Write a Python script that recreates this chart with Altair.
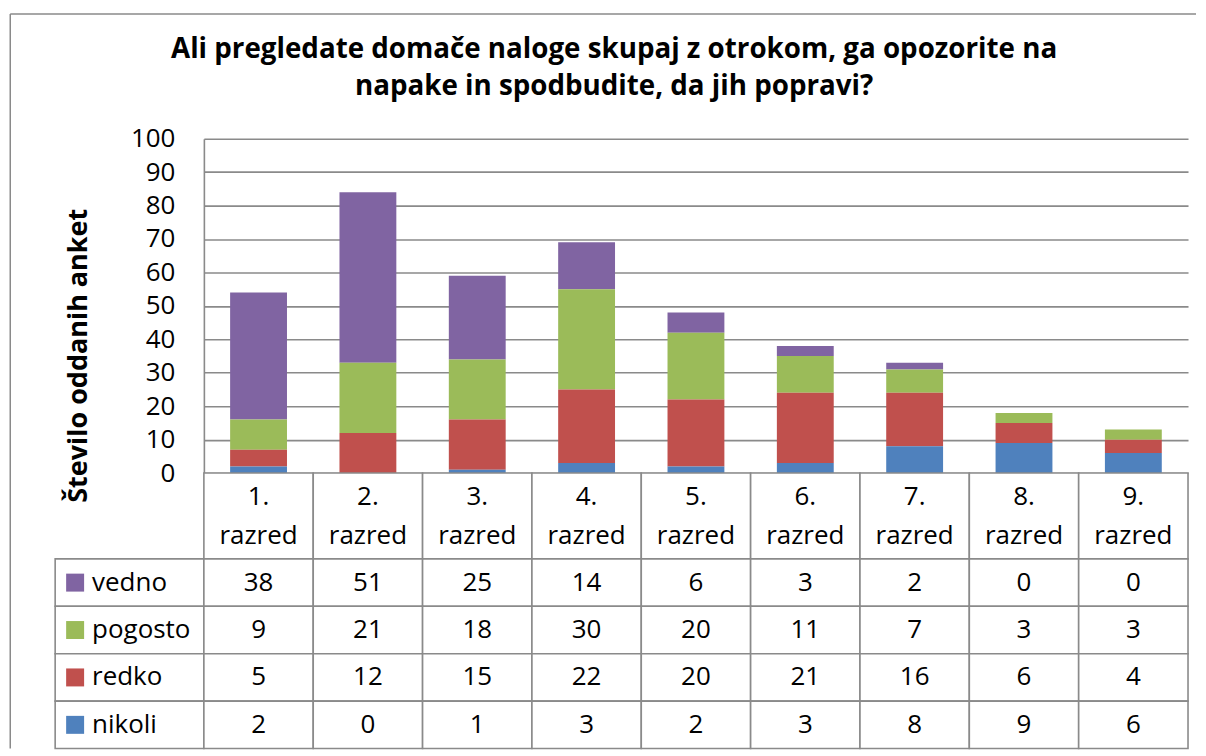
import altair as alt
import pandas as pd

# ---- data ----
categories = ["1. razred", "2. razred", "3. razred", "4. razred", "5. razred",
              "6. razred", "7. razred", "8. razred", "9. razred"]
series = ["vedno", "pogosto", "redko", "nikoli"]
vedno = [38, 51, 25, 14, 6, 3, 2, 0, 0]
pogosto = [9, 21, 18, 30, 20, 11, 7, 3, 3]
redko = [5, 12, 15, 22, 20, 21, 16, 6, 4]
nikoli = [2, 0, 1, 3, 2, 3, 8, 9, 6]
colors = ["#8064A2", "#9BBB59", "#C0504D", "#4F81BD"]
y_ticks = [0, 10, 20, 30, 40, 50, 60, 70, 80, 90, 100]
title_lines = ["Ali pregledate domače naloge skupaj z otrokom, ga opozorite na",
               "napake in spodbudite, da jih popravi?"]
y_title = "Število oddanih anket"

values = {"vedno": vedno, "pogosto": pogosto, "redko": redko, "nikoli": nikoli}
stack_order = {"nikoli": 0, "redko": 1, "pogosto": 2, "vedno": 3}
rows = []
for s in series:
    for c, v in zip(categories, values[s]):
        rows.append({"cat": c, "series": s, "value": v, "ord": stack_order[s]})
df = pd.DataFrame(rows)
cat_df = pd.DataFrame({"cat": categories})
ser_df = pd.DataFrame({"series": series})

FONT = "Open Sans"
TFONT = "Open Sans"
FS = 26
GRAY = "#8a8a8a"
LW = 1.6
W_PLOT = 986
W_LEG = 149
H_PLOT = 335
H_HEAD = 86
H_TAB = 190

xband = alt.Scale(domain=categories, paddingInner=0, paddingOuter=0)
color_scale = alt.Scale(domain=series, range=colors)

# ---- bars ----
bars = alt.Chart(df).mark_bar(width={"band": 0.52}).encode(
    x=alt.X("cat:N", sort=categories, scale=xband, axis=None),
    y=alt.Y("value:Q", stack="zero", scale=alt.Scale(domain=[0, 100], nice=False),
            axis=alt.Axis(values=y_ticks, labelFont=FONT, labelFontSize=FS,
                          labelColor="black", labelPadding=29, ticks=False,
                          domainColor=GRAY, domainWidth=LW, gridColor=GRAY,
                          gridWidth=LW, title=y_title, titleFont=TFONT,
                          titleFontSize=27, titleFontWeight="bold",
                          titleColor="black", titleX=-118, titleY=217,
                          titleAngle=270, titleAlign="center",
                          titleBaseline="alphabetic")),
    color=alt.Color("series:N", scale=color_scale, legend=None),
    order=alt.Order("ord:Q"),
)

# chart-area border (top and left edges; the others lie outside the picture)
frame_df = pd.DataFrame({"f": [0]})
frame_top = alt.Chart(frame_df).mark_rule(stroke=GRAY, strokeWidth=1.5).encode(
    x=alt.value(-194), x2=alt.value(994), y=alt.value(-125))
frame_left = alt.Chart(frame_df).mark_rule(stroke=GRAY, strokeWidth=1.5).encode(
    x=alt.value(-194), y=alt.value(-125), y2=alt.value(H_PLOT + H_HEAD + H_TAB))

bar_panel = alt.layer(frame_top, frame_left, bars).properties(width=W_PLOT, height=H_PLOT)

# ---- header row (category labels) ----
head_rect = alt.Chart(cat_df).mark_rect(fill="white", stroke=GRAY, strokeWidth=LW).encode(
    x=alt.X("cat:N", sort=categories, scale=xband, axis=None)
)
head_text = alt.Chart(cat_df).mark_text(
    font=FONT, fontSize=FS, lineBreak=" ", lineHeight=39, color="black", baseline="middle"
).encode(
    x=alt.X("cat:N", sort=categories, scale=xband, axis=None),
    y=alt.value(24),
    text="cat:N",
)
head_panel = alt.layer(head_rect, head_text).properties(width=W_PLOT, height=H_HEAD)

# ---- data table ----
yband = alt.Scale(domain=series, paddingInner=0, paddingOuter=0)
cell_rect = alt.Chart(df).mark_rect(fill="white", stroke=GRAY, strokeWidth=LW).encode(
    x=alt.X("cat:N", sort=categories, scale=xband, axis=None),
    y=alt.Y("series:N", sort=series, scale=yband, axis=None),
)
cell_text = alt.Chart(df).mark_text(font=FONT, fontSize=FS, color="black").encode(
    x=alt.X("cat:N", sort=categories, scale=xband, axis=None),
    y=alt.Y("series:N", sort=series, scale=yband, axis=None),
    text="value:Q",
)
cell_panel = alt.layer(cell_rect, cell_text).properties(width=W_PLOT, height=H_TAB)

leg_rect = alt.Chart(ser_df).mark_rect(fill="white", stroke=GRAY, strokeWidth=LW).encode(
    y=alt.Y("series:N", sort=series, scale=yband, axis=None),
)
leg_sw = alt.Chart(ser_df).mark_point(shape="square", size=324, filled=True, opacity=1).encode(
    x=alt.value(20),
    y=alt.Y("series:N", sort=series, scale=yband, axis=None),
    color=alt.Color("series:N", scale=color_scale, legend=None),
)
leg_text = alt.Chart(ser_df).mark_text(font=FONT, fontSize=FS, color="black", align="left").encode(
    x=alt.value(37),
    y=alt.Y("series:N", sort=series, scale=yband, axis=None),
    text="series:N",
)
leg_panel = alt.layer(leg_rect, leg_sw, leg_text).properties(width=W_LEG, height=H_TAB)

blank_df = pd.DataFrame({"a": [0]})
blank1 = alt.Chart(blank_df).mark_point(opacity=0).encode(
    x=alt.value(0), y=alt.value(0)).properties(width=W_LEG, height=H_PLOT)
blank2 = alt.Chart(blank_df).mark_point(opacity=0).encode(
    x=alt.value(0), y=alt.value(0)).properties(width=W_LEG, height=H_HEAD)

chart = alt.concat(
    blank1, bar_panel, blank2, head_panel, leg_panel, cell_panel,
    columns=2, spacing=0, bounds="flush", align="each",
).properties(
    title=alt.TitleParams(text=title_lines, font=TFONT, fontSize=27.8, fontWeight="bold",
                          color="black", anchor="middle", dx=11, offset=-110.5,
                          baseline="alphabetic", lineHeight=37),
    padding={"left": 0.25, "top": 3.25, "right": 0, "bottom": 0},
).configure_view(stroke="transparent")

chart.save("out.html", embed_options={"renderer": "svg", "actions": False})
